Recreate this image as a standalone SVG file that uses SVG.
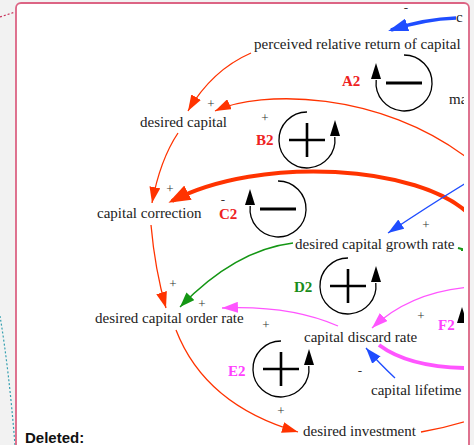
<svg xmlns="http://www.w3.org/2000/svg" width="474" height="445" viewBox="0 0 474 445">
<style>
.t{font-family:"Liberation Serif","Times New Roman",serif;font-size:15px;fill:#222}
.s{font-family:"Liberation Serif","Times New Roman",serif;font-size:13px;fill:#333;text-anchor:middle}
.lb{font-family:"Liberation Serif","Times New Roman",serif;font-size:15px;font-weight:bold}
.c{fill:none;stroke-width:1.3}
.w4{stroke-width:4}
.w3{stroke-width:3.5}
.r{stroke:#ff3300}
.b{stroke:#1f4dff}
.g{stroke:#149614}
.m{stroke:#ff55ff}
.lc{fill:none;stroke:#000;stroke-width:1.3}
.ls{stroke:#000;stroke-width:2.6;fill:none}
</style>
<defs>
<clipPath id="pc"><rect x="17" y="4" width="447" height="441"/></clipPath>
<marker id="mr" markerUnits="userSpaceOnUse" viewBox="0 0 16 11" markerWidth="16" markerHeight="11" refX="16" refY="5.5" orient="auto"><path d="M0,0L16,5.5L0,11z" fill="#ff3300"/></marker>
<marker id="mR" markerUnits="userSpaceOnUse" viewBox="0 0 22 16" markerWidth="22" markerHeight="16" refX="18" refY="8" orient="auto"><path d="M0,0L22,8L0,16z" fill="#ff3300"/></marker>
<marker id="mb" markerUnits="userSpaceOnUse" viewBox="0 0 16 11" markerWidth="16" markerHeight="11" refX="16" refY="5.5" orient="auto"><path d="M0,0L16,5.5L0,11z" fill="#1f4dff"/></marker>
<marker id="mB" markerUnits="userSpaceOnUse" viewBox="0 0 20 13" markerWidth="20" markerHeight="13" refX="17" refY="6.5" orient="auto"><path d="M0,0L20,6.5L0,13z" fill="#1f4dff"/></marker>
<marker id="mg" markerUnits="userSpaceOnUse" viewBox="0 0 15 11" markerWidth="15" markerHeight="11" refX="15" refY="5.5" orient="auto"><path d="M0,0L15,5.5L0,11z" fill="#149614"/></marker>
<marker id="mm" markerUnits="userSpaceOnUse" viewBox="0 0 16 11" markerWidth="16" markerHeight="11" refX="16" refY="5.5" orient="auto"><path d="M0,0L16,5.5L0,11z" fill="#ff55ff"/></marker>
<g id="lpPlus">
<path class="lc" d="M27.8,-3A28,28 0 1 1 0,-28"/>
<path d="M28,-20L33,-4L23,-4z" fill="#000"/>
<path class="ls" d="M-18,0H18M0,-17V17"/>
</g>
<g id="lpMinus">
<path class="lc" d="M0,-28A28,28 0 1 1 -27.8,-3"/>
<path d="M-28,-20L-23,-4L-33,-4z" fill="#000"/>
<path class="ls" d="M-18,0H18" style="stroke-width:3"/>
</g>
</defs>
<rect x="0" y="0" width="474" height="445" fill="#f2f2f2"/>
<path d="M0,17L15,12" stroke="#c8305a" stroke-width="1.2" stroke-dasharray="2,2" fill="none"/>
<path d="M0,316Q9,370 15,445" stroke="#35a0b0" stroke-width="1.2" stroke-dasharray="2,2" fill="none"/>
<rect x="16" y="3" width="453" height="500" rx="5" fill="#fff" stroke="#dc6484" stroke-width="1.8"/>

<g id="connectors" clip-path="url(#pc)">
<path class="c b w3" d="M456,18Q425,19 391,30" marker-end="url(#mB)"/>
<path class="c r" d="M251,53Q212,70 188,111" marker-end="url(#mr)"/>
<path class="c r" d="M470,160C380,90 260,90 215,111" marker-end="url(#mr)"/>
<path class="c r" d="M178,133Q160,160 152,203" marker-end="url(#mr)"/>
<path class="c r w4" d="M470,215C420,165 260,155 172,201" marker-end="url(#mR)"/>
<path class="c b" d="M466,183Q430,205 388,233" marker-end="url(#mb)"/>
<path class="c g" d="M458,248L462,249L462,251" style="stroke-width:2"/>
<path class="c g" d="M293,243Q235,250 180,307" marker-end="url(#mg)"/>
<path class="c r" d="M151,225Q155,270 166,308" marker-end="url(#mr)"/>
<path class="c m" d="M338,326Q290,305 222,308" marker-end="url(#mm)"/>
<path class="c m" d="M470,287Q410,292 372,328" marker-end="url(#mm)"/>
<path class="c m w4" d="M379,345Q410,368 470,368"/>
<path class="c b" d="M395,378Q378,362 366,348" marker-end="url(#mb)"/>
<path class="c r" d="M176,330Q205,405 298,432" marker-end="url(#mr)"/>
<path class="c r" d="M421,432Q445,428 470,420"/>
</g>

<g id="loops" clip-path="url(#pc)">
<g id="A2"><use href="#lpMinus" x="404" y="83"/><text class="lb" x="342" y="86" fill="#ee2222">A2</text></g>
<g id="B2"><use href="#lpPlus" x="307" y="140"/><text class="lb" x="256" y="145" fill="#ee2222">B2</text></g>
<g id="C2"><use href="#lpMinus" x="278" y="209"/><text class="lb" x="219" y="219" fill="#ee2222">C2</text></g>
<g id="D2"><use href="#lpPlus" x="348" y="286"/><text class="lb" x="294" y="292" fill="#1a8c1a">D2</text></g>
<g id="E2"><use href="#lpPlus" x="281" y="369"/><text class="lb" x="228" y="376" fill="#ff40ff">E2</text></g>
<g id="F2"><path d="M462,307L467,323L457,323z" fill="#000"/><text class="lb" x="438" y="330" fill="#ff40ff">F2</text></g>
</g>

<g id="nodes" clip-path="url(#pc)">
<g id="n-prc"><text class="t" x="254" y="49">perceived relative return of capital</text></g>
<g id="n-c"><text class="t" x="456" y="22">c</text></g>
<g id="n-ma"><text class="t" x="449" y="104">ma</text></g>
<g id="n-dc"><text class="t" x="140" y="127">desired capital</text></g>
<g id="n-cc"><text class="t" x="97" y="218">capital correction</text></g>
<g id="n-dcgr"><text class="t" x="295" y="249">desired capital growth rate</text></g>
<g id="n-dcor"><text class="t" x="95" y="323">desired capital order rate</text></g>
<g id="n-cdr"><text class="t" x="304" y="342">capital discard rate</text></g>
<g id="n-cl"><text class="t" x="371" y="395">capital lifetime</text></g>
<g id="n-di"><text class="t" x="303" y="436">desired investment</text></g>
</g>

<g id="signs">
<text class="s" x="406" y="12">-</text>
<text class="s" x="211" y="108">+</text>
<text class="s" x="265" y="122">+</text>
<text class="s" x="170" y="193">+</text>
<text class="s" x="223" y="204">-</text>
<text class="s" x="426" y="229">+</text>
<text class="s" x="173" y="288">+</text>
<text class="s" x="202" y="308">+</text>
<text class="s" x="266" y="329">+</text>
<text class="s" x="421" y="320">+</text>
<text class="s" x="360" y="375">-</text>
<text class="s" x="281" y="415">+</text>
</g>

<text x="25" y="443" font-family="'Liberation Sans',Arial,sans-serif" font-size="15" font-weight="bold" fill="#111">Deleted:</text>
</svg>
